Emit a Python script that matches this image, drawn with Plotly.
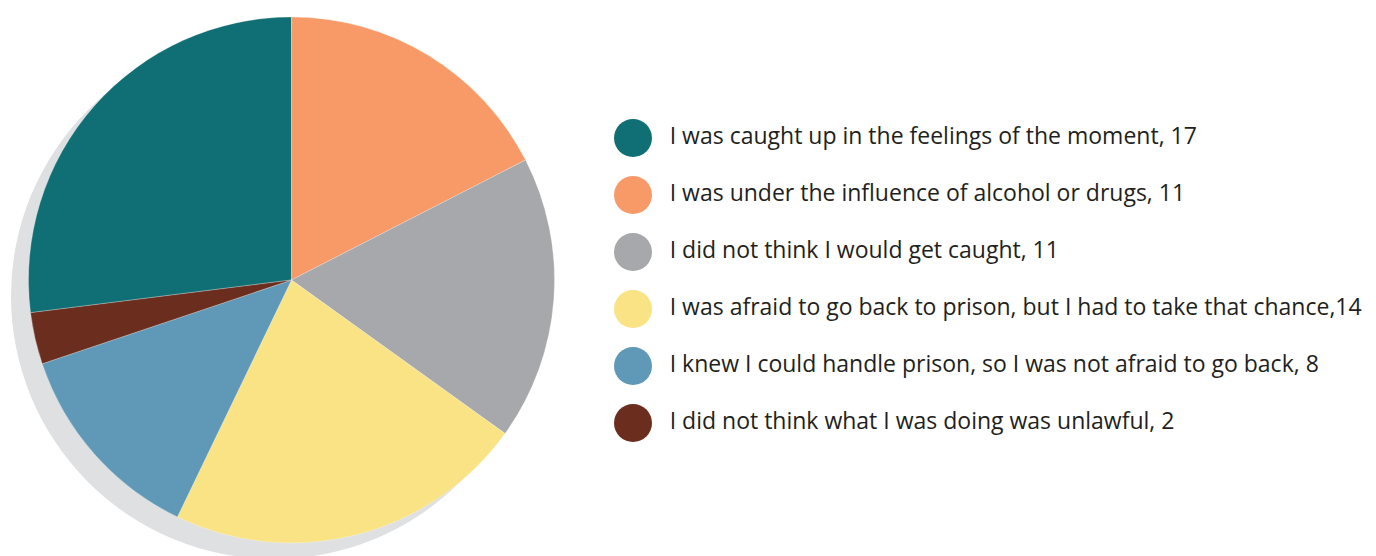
import plotly.graph_objects as go

labels = [
    "I was caught up in the feelings of the moment, 17",
    "I was under the influence of alcohol or drugs, 11",
    "I did not think I would get caught, 11",
    "I was afraid to go back to prison, but I had to take that chance,14",
    "I knew I could handle prison, so I was not afraid to go back, 8",
    "I did not think what I was doing was unlawful, 2",
]
values = [17, 11, 11, 14, 8, 2]
colors = ["#106f74", "#f89a68", "#a7a8ab", "#f9e384", "#5f99b7", "#6b2e1e"]

W, H = 1376, 556
OFF = 8  # page body margin in front of the plot div


def px(x):
    return (x - OFF) / W


def py(y):
    return (H - (y - OFF)) / H


fig = go.Figure()

# drop shadow behind the pie
fig.add_shape(
    type="circle",
    xref="paper",
    yref="paper",
    x0=px(11),
    x1=px(537),
    y0=py(559),
    y1=py(33),
    fillcolor="#dfe0e2",
    line=dict(width=0),
    layer="below",
)

fig.add_trace(
    go.Pie(
        labels=labels,
        values=values,
        marker=dict(colors=colors, line=dict(color="rgba(255,255,255,0.5)", width=0.5)),
        sort=False,
        direction="clockwise",
        rotation=-values[0] / sum(values) * 360,
        textinfo="none",
        hoverinfo="label+percent",
        showlegend=False,
        domain=dict(x=[px(28), px(555)], y=[py(543), py(17)]),
    )
)

# legend drawn as large circle markers with labels
fig.add_trace(
    go.Scatter(
        x=[0] * len(labels),
        y=labels,
        mode="markers+text",
        marker=dict(color=colors, size=38, line=dict(width=0)),
        text=["  " + t for t in labels],
        textposition="middle right",
        textfont=dict(family="'Open Sans', sans-serif", size=23, color="#231f20"),
        cliponaxis=False,
        hoverinfo="skip",
        showlegend=False,
    )
)

fig.update_layout(
    width=W,
    height=H,
    margin=dict(l=0, r=0, t=0, b=0),
    paper_bgcolor="white",
    plot_bgcolor="rgba(0,0,0,0)",
    showlegend=False,
    xaxis=dict(domain=[px(633), 1], range=[0, 1], visible=False, fixedrange=True),
    yaxis=dict(
        domain=[py(451.5), py(109.5)],
        type="category",
        categoryorder="array",
        categoryarray=labels,
        range=[len(labels) - 0.5, -0.5],
        visible=False,
        fixedrange=True,
    ),
)

fig.write_html("out.html")
